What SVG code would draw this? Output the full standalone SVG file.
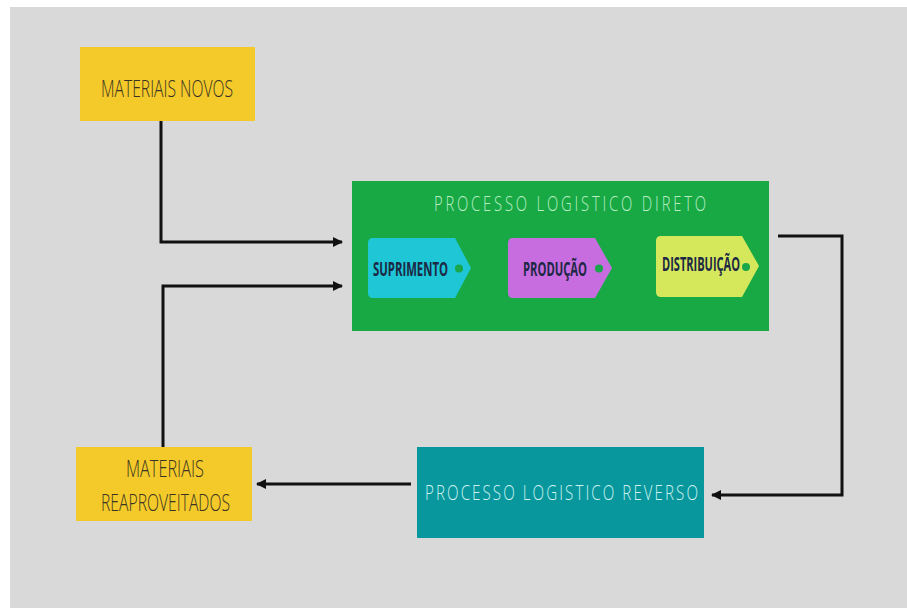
<svg xmlns="http://www.w3.org/2000/svg" width="907" height="608" viewBox="0 0 907 608">
<defs>
<marker id="ah" viewBox="0 0 10 10" refX="9" refY="5" markerWidth="10" markerHeight="12" markerUnits="userSpaceOnUse" orient="auto">
<path d="M0,0 L10,5 L0,10 Z" fill="#111"/>
</marker>
<style>
.conn{fill:none;stroke:#111;stroke-width:3;stroke-linejoin:miter}
.ytxt{font-family:"Open Sans","Liberation Sans",sans-serif;font-weight:300;fill:#3a3222;text-anchor:middle}
.ttl{font-family:"Open Sans","Liberation Sans",sans-serif;font-weight:300;text-anchor:middle}
.tag{font-family:"Open Sans","Liberation Sans",sans-serif;font-weight:700;fill:#1c2844;font-size:19px}
.dot{fill:#1aa64a}
</style>
</defs>
<rect x="0" y="0" width="907" height="608" fill="#ffffff"/>
<rect x="10" y="7" width="897" height="601" fill="#d9d9d9"/>

<g id="connectors">
<polyline class="conn" points="161,121 161,242 342,242" marker-end="url(#ah)"/>
<polyline class="conn" points="163,447 163,286 342,286" marker-end="url(#ah)"/>
<polyline class="conn" points="778,236 842,236 842,495 712,495" marker-end="url(#ah)"/>
<polyline class="conn" points="411,484 257,484" marker-end="url(#ah)"/>
</g>

<g id="materiais-novos">
<rect x="80" y="47" width="175" height="74" fill="#f3ca2a"/>
<text class="ytxt" x="167" y="96.5" font-size="24" textLength="132" lengthAdjust="spacingAndGlyphs">MATERIAIS NOVOS</text>
</g>

<g id="processo-direto">
<rect x="352" y="181" width="417" height="150" fill="#18a945"/>
<text class="ttl" transform="translate(570,211) scale(0.72,1)" x="0" y="0" font-size="20.5" fill="#b9eec4" textLength="378" lengthAdjust="spacing">PROCESSO LOGISTICO DIRETO</text>
</g>

<g id="suprimento">
<path d="M373,238 L455,238 L471,268 L455,298 L373,298 Q368,298 368,293 L368,243 Q368,238 373,238 Z" fill="#1ec6d6"/>
<circle class="dot" cx="459" cy="268.5" r="4"/>
<text class="tag" x="373" y="276" textLength="75" lengthAdjust="spacingAndGlyphs">SUPRIMENTO</text>
</g>

<g id="producao">
<path d="M513,238 L595,238 L612,268 L595,298 L513,298 Q508,298 508,293 L508,243 Q508,238 513,238 Z" fill="#c76de0"/>
<circle class="dot" cx="599" cy="268.5" r="4"/>
<text class="tag" x="523" y="276" textLength="64" lengthAdjust="spacingAndGlyphs">PRODUÇÃO</text>
</g>

<g id="distribuicao">
<path d="M661,236 L742,236 L759,266 L742,297 L661,297 Q656,297 656,292 L656,241 Q656,236 661,236 Z" fill="#d5e85c"/>
<circle class="dot" cx="746" cy="267" r="4"/>
<text class="tag" x="662" y="271" textLength="78" lengthAdjust="spacingAndGlyphs">DISTRIBUIÇÃO</text>
</g>

<g id="processo-reverso">
<rect x="417" y="447" width="287" height="91" fill="#07979c"/>
<text class="ttl" transform="translate(561.5,500) scale(0.72,1)" x="0" y="0" font-size="21" fill="#cdf2f2" textLength="379" lengthAdjust="spacing">PROCESSO LOGISTICO REVERSO</text>
</g>

<g id="materiais-reaproveitados">
<rect x="76" y="447" width="176" height="74" fill="#f3ca2a"/>
<text class="ytxt" x="165" y="477" font-size="23" textLength="78" lengthAdjust="spacingAndGlyphs">MATERIAIS</text>
<text class="ytxt" x="165.5" y="510.5" font-size="23" textLength="129" lengthAdjust="spacingAndGlyphs">REAPROVEITADOS</text>
</g>
</svg>
